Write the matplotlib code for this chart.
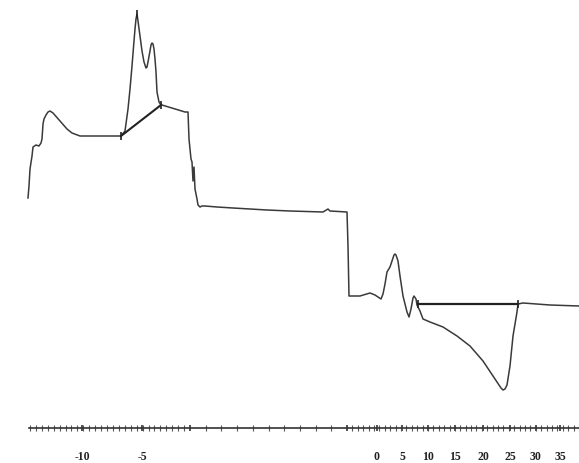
import numpy as np
import matplotlib
matplotlib.use("Agg")
import matplotlib.pyplot as plt

# thermogram trace (x = chart position, y = signal, screen-down)
trace_x = [28, 29, 30, 32, 33, 36, 39, 41, 42, 43, 44, 46, 48, 50, 53, 60, 67, 72, 80, 100, 121,
           125, 128, 130, 132, 134, 135, 136, 137, 138, 140, 142, 144, 146, 147, 148, 150, 151,
           152, 153, 154, 155, 156, 157, 159, 161,
           162, 185, 188, 189, 191, 192, 193, 194, 195, 197, 198, 200, 202, 205, 217, 233,
           267, 290, 323, 328, 330, 347, 348, 349, 352, 360, 370, 375, 381, 383, 385, 387, 390,
           392, 394, 395, 396, 398, 400, 403, 407, 409, 411, 413, 414, 416, 417, 420, 423, 430,
           443, 457, 470, 483, 493, 499, 501, 503, 505, 507, 510, 513, 517, 518, 523, 550, 579]
trace_y = [199, 187, 170, 157, 148, 146, 147, 144, 140, 125, 120, 116, 113, 112, 114, 122, 130,
           134, 137, 137, 137,
           132, 110, 90, 67, 42, 30, 20, 15, 22, 37, 52, 63, 69, 68, 63, 52, 46,
           44, 45, 50, 60, 73, 93, 103, 106,
           106, 113, 113, 140, 160, 163, 182, 168, 190, 200, 206, 208, 207, 207, 208, 209,
           211, 212, 213, 210, 212, 213, 247, 297, 297, 297, 294, 296, 300, 295, 285, 273, 268,
           262, 256, 255, 256, 262, 277, 297, 313, 318, 310, 299, 297, 300, 306, 312, 320, 323,
           328, 337, 347, 362, 377, 386, 389, 391, 390, 386, 367, 337, 313, 305, 304, 306, 307]

# integration baselines
base1_x = [121, 161]
base1_y = [137, 106]
base2_x = [418, 518]
base2_y = [305, 305]

# axis ticks and labels
label_pos = [82, 142, 190, 347, 377, 402, 428, 455, 483, 510, 536, 560]
label_txt = ['-10', '-5', '', '', '0', '5', '10', '15', '20', '25', '30', '35']
axis_y = 429

fig = plt.figure(figsize=(5.79, 4.64), dpi=100)
ax = fig.add_axes([0, 0, 1, 1])
ax.set_xlim(0, 579)
ax.set_ylim(464, 0)

ax.plot(trace_x, trace_y, color='#3a3a3a', lw=1.1)
ax.plot(base1_x, base1_y, color='#222222', lw=1.5)
ax.plot(base2_x, base2_y, color='#222222', lw=1.6)
ax.plot(base1_x + base2_x + [137], base1_y + base2_y + [15], ls='none',
        marker='|', ms=6, mew=1.2, color='#222222')

for s in ['top', 'left', 'right']:
    ax.spines[s].set_visible(False)
ax.spines['bottom'].set_position(('data', axis_y))
ax.spines['bottom'].set_bounds(29, 579)
ax.spines['bottom'].set_color('#333333')
ax.spines['bottom'].set_linewidth(1.2)
ax.set_yticks([])

ax.set_xticks(label_pos)
ax.set_xticklabels(label_txt, family='Liberation Serif', fontsize=8.5,
                   fontweight='bold', color='#222222')
minor = list(np.linspace(30, 190, 28)) + list(np.linspace(190, 347, 11)) + list(np.linspace(347, 579, 44))
ax.set_xticks(minor, minor=True)
ax.tick_params(axis='x', which='major', direction='inout', length=5, width=1.2,
               color='#333333', pad=13)
ax.tick_params(axis='x', which='minor', direction='inout', length=4, width=0.8,
               color='#555555')

fig.savefig('out.png', dpi=100)
